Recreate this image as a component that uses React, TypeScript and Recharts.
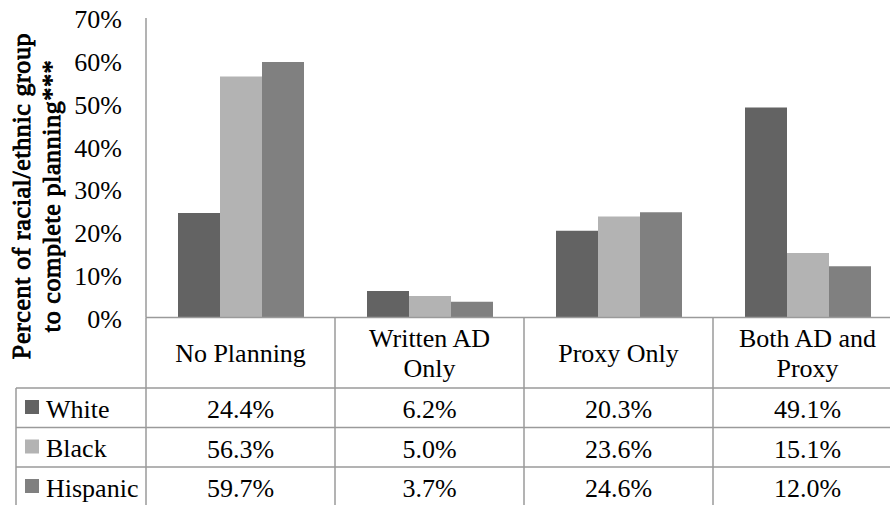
import React from "react";
import { BarChart, Bar, XAxis, YAxis } from "recharts";

// ---- data ----
const categories = ["No Planning", "Written AD Only", "Proxy Only", "Both AD and Proxy"];
const categoryLines = [["No Planning"], ["Written AD", "Only"], ["Proxy Only"], ["Both AD and", "Proxy"]];
const seriesNames = ["White", "Black", "Hispanic"];
const seriesColors = ["#636363", "#b3b3b3", "#808080"];
const white = [24.4, 6.2, 20.3, 49.1];
const black = [56.3, 5.0, 23.6, 15.1];
const hispanic = [59.7, 3.7, 24.6, 12.0];
const yTicks = [0, 10, 20, 30, 40, 50, 60, 70];
const yTitleLines = ["Percent of racial/ethnic group", "to complete planning***"];

const seriesValues = [white, black, hispanic];
const data = categories.map((c, i) => {
  const row: Record<string, any> = { category: c };
  seriesNames.forEach((s, k) => (row[s] = seriesValues[k][i]));
  return row;
});

// ---- layout ----
const FONT = "Liberation Serif";
const FS = 26;
const LINE = "#9a9a9a";
const CHART_W = 902;
const CHART_H = 512;
const TOP = 18;
const PLOT_H = 299.5;
const AXIS_W = 146;
const XAXIS_H = CHART_H - TOP - PLOT_H;
const HEADER_H = 70.5;
const ROW_H = 39.5;
const LEFT_X = 16;

const fmt = (v: number) => `${v.toFixed(1)}%`;

const TableTick = (props: any) => {
  const { x, y, payload, index, width } = props;
  const band = payload && payload.offset > 0 ? payload.offset * 2 : width / categories.length;
  const half = band / 2;
  const y0 = y;
  const bottom = y0 + HEADER_H + ROW_H * seriesNames.length + 10;
  const lines = categoryLines[index] || [String(payload.value)];
  const headerBaselines = lines.length === 1 ? [y0 + 44.5] : [y0 + 29.5, y0 + 59.5];
  const plotLeft = x - half - index * band;
  const plotRight = plotLeft + band * categories.length;
  return (
    <g>
      {index === 0 && (
        <g>
          <line x1={x - half} y1={y0} x2={x - half} y2={bottom} stroke={LINE} strokeWidth={1.5} />
          <line x1={LEFT_X} y1={y0 + HEADER_H} x2={LEFT_X} y2={bottom} stroke={LINE} strokeWidth={1.5} />
          {seriesNames.map((s, k) => {
            const top = y0 + HEADER_H + k * ROW_H;
            return (
              <g key={s}>
                <line x1={LEFT_X} y1={top} x2={plotRight} y2={top} stroke={LINE} strokeWidth={1.5} />
                <rect x={25} y={top + 12} width={14} height={14} fill={seriesColors[k]} />
                <text x={46} y={top + 29.5} fontFamily={FONT} fontSize={FS} fill="#000">
                  {s}
                </text>
              </g>
            );
          })}
        </g>
      )}
      <line x1={x + half} y1={y0} x2={x + half} y2={bottom} stroke={LINE} strokeWidth={1.5} />
      {lines.map((l, i) => (
        <text key={i} x={x} y={headerBaselines[i]} textAnchor="middle" fontFamily={FONT} fontSize={FS} fill="#000">
          {l}
        </text>
      ))}
      {seriesValues.map((vals, k) => (
        <text
          key={k}
          x={x}
          y={y0 + HEADER_H + k * ROW_H + 30}
          textAnchor="middle"
          fontFamily={FONT}
          fontSize={FS}
          fill="#000"
        >
          {fmt(vals[index])}
        </text>
      ))}
    </g>
  );
};

export default function App() {
  return (
    <div style={{ position: "absolute", left: 0, top: 0, width: 890, height: 505, overflow: "hidden", background: "#fff" }}>
      <BarChart
        width={CHART_W}
        height={CHART_H}
        data={data}
        margin={{ top: TOP, right: 0, bottom: 0, left: 0 }}
        barGap={0}
      >
        <YAxis
          width={AXIS_W}
          domain={[0, 70]}
          ticks={yTicks}
          interval={0}
          tickFormatter={(v: number) => `${v}%`}
          axisLine={{ stroke: LINE, strokeWidth: 1.5 }}
          tickLine={false}
          tickSize={0}
          tickMargin={24}
          tick={{ fill: "#000", fontSize: FS, fontFamily: FONT, dy: 1 }}
        />
        <XAxis
          dataKey="category"
          height={XAXIS_H}
          interval={0}
          axisLine={{ stroke: LINE, strokeWidth: 1.5 }}
          tickLine={false}
          tickSize={0}
          tickMargin={0}
          tick={<TableTick />}
        />
        {seriesNames.map((s, k) => (
          <Bar key={s} dataKey={s} fill={seriesColors[k]} barSize={42} isAnimationActive={false} />
        ))}
      </BarChart>
      <svg
        width={890}
        height={505}
        style={{ position: "absolute", left: 0, top: 0, pointerEvents: "none" }}
      >
        {yTitleLines.map((t, i) => {
          const bx = 30 + i * 30;
          const cy = 196;
          return (
            <text
              key={i}
              x={bx}
              y={cy}
              transform={`rotate(-90, ${bx}, ${cy})`}
              textAnchor="middle"
              fontFamily={FONT}
              fontSize={FS}
              letterSpacing={0.6}
              stroke="#000"
              strokeWidth={0.9}
              fill="#000"
            >
              {t}
            </text>
          );
        })}
      </svg>
    </div>
  );
}
